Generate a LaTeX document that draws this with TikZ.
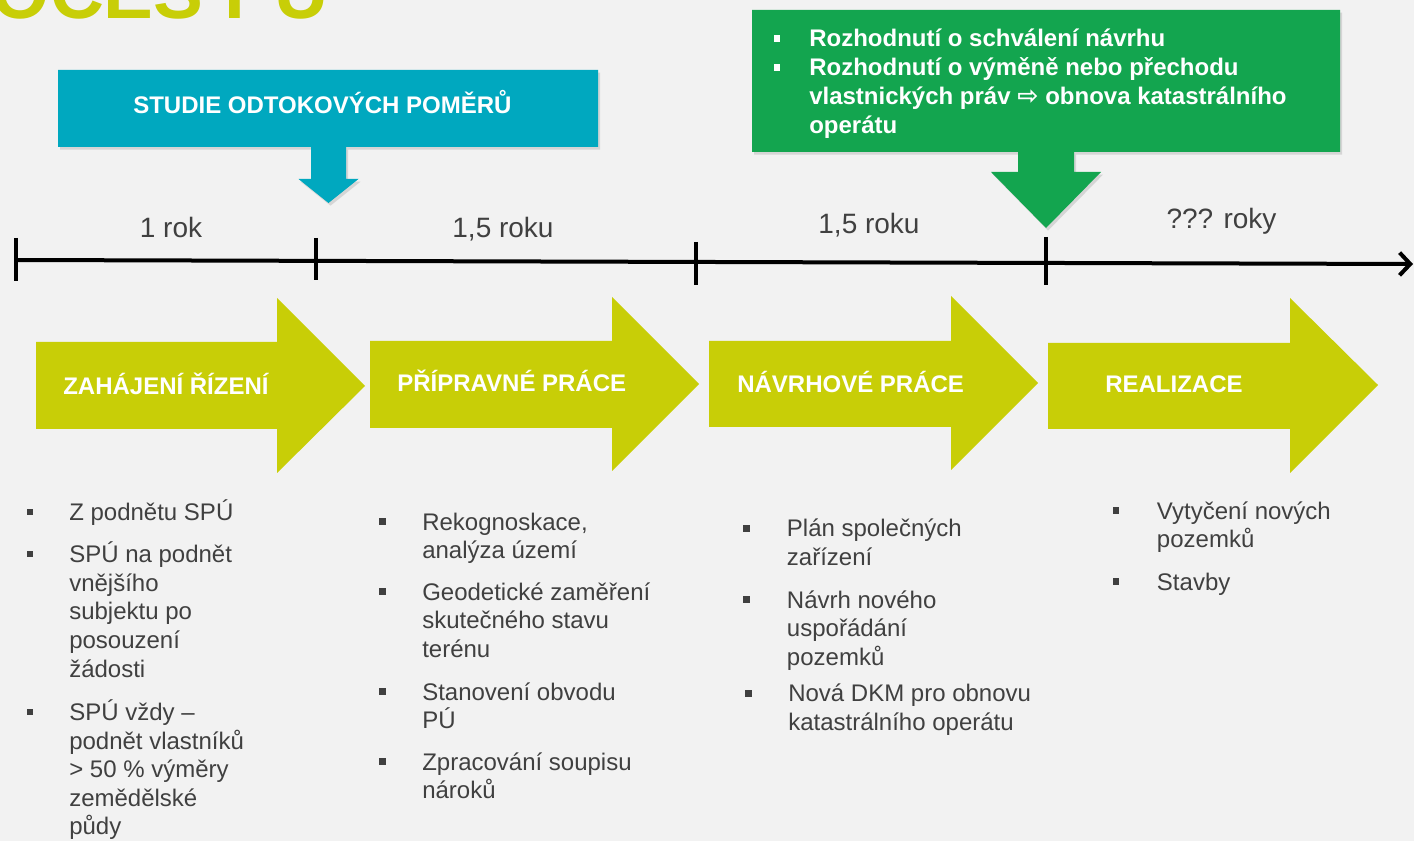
\documentclass[tikz,border=0pt]{standalone}
\usepackage{fontspec}
\setmainfont{Liberation Sans}
\newfontfamily\symfont{DejaVu Sans}
\usetikzlibrary{arrows.meta,shadows}
\definecolor{bg}{HTML}{F2F2F2}
\definecolor{lime}{HTML}{C8CE07}
\definecolor{tealc}{HTML}{00A8BF}
\definecolor{greenc}{HTML}{13A54F}
\definecolor{txt}{HTML}{404040}
\newcommand{\sqbullet}[3]{\fill[#1] (#2-3.3,#3-3.3) rectangle (#2+3.3,#3+3.3);}
\begin{document}
\begin{tikzpicture}[x=0.75pt,y=-0.75pt,
  li/.style={anchor=base west, inner sep=0pt, font=\fontsize{18}{21.6}\selectfont, text=txt},
  lbl/.style={anchor=base west, inner sep=0pt, font=\bfseries\fontsize{18}{21.6}\selectfont, text=white},
  tl/.style={anchor=base, inner sep=0pt, font=\fontsize{21}{25}\selectfont, text=txt},
  phase/.style={fill=lime},
  callout/.style={drop shadow={shadow xshift=1.5pt, shadow yshift=-2pt, opacity=0.25}},
  tick/.style={line width=3pt, black}
]
\useasboundingbox (0,0) rectangle (1414,841);
\clip (0,0) rectangle (1414,841);
\fill[bg] (0,0) rectangle (1414,841);

% title (cut off at top, as in the reference)
\node[anchor=base west, inner sep=0pt, font=\bfseries\fontsize{56}{60}\selectfont, text=lime] (title) at (-112,18.3) {PROCES PÚ};

% blue callout
\fill[tealc, callout] (58,70) -- (598,70) -- (598,147) -- (346,147) -- (346,179) -- (358.5,179)
  -- (328.5,203) -- (298.5,179) -- (311,179) -- (311,147) -- (58,147) -- cycle;
\node[lbl] (studie) at (133,114) {STUDIE ODTOKOVÝCH POMĚRŮ};

% green callout
\fill[greenc, callout] (752,10) -- (1340,10) -- (1340,152) -- (1074,152) -- (1074,172) -- (1101,172)
  -- (1046,228) -- (991,172) -- (1018,172) -- (1018,152) -- (752,152) -- cycle;
\sqbullet{white}{777}{38.5}
\sqbullet{white}{777}{67.5}
\node[lbl] (g1) at (809,47) {Rozhodnutí o schválení návrhu};
\node[lbl] (g2) at (809,76) {Rozhodnutí o výměně nebo přechodu};
\node[lbl] (g3) at (809,105) {vlastnických práv {\symfont\bfseries\fontsize{19}{20}\selectfont ⇨} obnova katastrálního};
\node[lbl] (g4) at (809,134) {operátu};

% timeline
\coordinate (t0) at (16,260);
\coordinate (t1) at (1413,264);
\draw[line width=3pt, -{Straight Barb[length=8pt,width=17pt,line width=3pt]}] (t0) -- (t1);
\draw[tick] (16,238) -- (16,281);
\draw[tick] (316,238) -- (316,280);
\draw[tick] (696,242) -- (696,285);
\draw[tick] (1046,237) -- (1046,285);
\node[tl] (y1) at (171,238) {1 rok};
\node[tl] (y2) at (503,238) {1,5 roku};
\node[tl] (y3) at (869,234) {1,5 roku};
\node[tl] (y4) at (1221.5,229) {??? roky};

% phase arrows
\fill[phase] (36,342) -- (277,342) -- (277,298) -- (365,386) -- (277,473) -- (277,429) -- (36,429) -- cycle;
\fill[phase] (370,341) -- (612,341) -- (612,297) -- (699,384) -- (612,471) -- (612,428) -- (370,428) -- cycle;
\fill[phase] (709,341) -- (951,341) -- (951,296) -- (1038,383) -- (951,470) -- (951,427) -- (709,427) -- cycle;
\fill[phase] (1048,343) -- (1290,343) -- (1290,298) -- (1378,385) -- (1290,473) -- (1290,429) -- (1048,429) -- cycle;
\node[lbl] (p1) at (63,395) {ZAHÁJENÍ ŘÍZENÍ};
\node[lbl] (p2) at (397,391.7) {PŘÍPRAVNÉ PRÁCE};
\node[lbl] (p3) at (737,392.5) {NÁVRHOVÉ PRÁCE};
\node[lbl] (p4) at (1105,392.5) {REALIZACE};

% column 1
\sqbullet{txt}{30}{512}
\sqbullet{txt}{30}{554}
\sqbullet{txt}{30}{711.8}
\node[li] (a1) at (69,520.7) {Z podnětu SPÚ};
\node[li] (a2) at (69,562.7) {SPÚ na podnět};
\node[li] (a3) at (69,591.3) {vnějšího};
\node[li] (a4) at (69,619.9) {subjektu po};
\node[li] (a5) at (69,648.5) {posouzení};
\node[li] (a6) at (69,677) {žádosti};
\node[li] (a7) at (69,720.5) {SPÚ vždy –};
\node[li] (a8) at (69,749) {podnět vlastníků};
\node[li] (a9) at (69,777.5) {> 50 \% výměry};
\node[li] (a10) at (69,806) {zemědělské};
\node[li] (a11) at (69,834.5) {půdy};

% column 2
\sqbullet{txt}{382.3}{521.3}
\sqbullet{txt}{382.3}{591.5}
\sqbullet{txt}{382.3}{691.5}
\sqbullet{txt}{382.3}{761.5}
\node[li] (b1) at (422,530) {Rekognoskace,};
\node[li] (b2) at (422,558.5) {analýza území};
\node[li] (b3) at (422,600) {Geodetické zaměření};
\node[li] (b4) at (422,628.5) {skutečného stavu};
\node[li] (b5) at (422,657) {terénu};
\node[li] (b6) at (422,700) {Stanovení obvodu};
\node[li] (b7) at (422,728.5) {PÚ};
\node[li] (b8) at (422,770) {Zpracování soupisu};
\node[li] (b9) at (422,798.5) {nároků};

% column 3
\sqbullet{txt}{746.5}{528.2}
\sqbullet{txt}{746.5}{599.5}
\sqbullet{txt}{748.5}{693.2}
\node[li] (c1) at (786.7,536.7) {Plán společných};
\node[li] (c2) at (786.7,565) {zařízení};
\node[li] (c3) at (786.7,608) {Návrh nového};
\node[li] (c4) at (786.7,636.7) {uspořádání};
\node[li] (c5) at (786.7,665) {pozemků};
\node[li] (c6) at (788,701.7) {Nová DKM pro obnovu};
\node[li] (c7) at (788,730) {katastrálního operátu};

% column 4
\sqbullet{txt}{1116}{510.5}
\sqbullet{txt}{1116}{581.5}
\node[li] (d1) at (1156.7,519) {Vytyčení nových};
\node[li] (d2) at (1156.7,547.7) {pozemků};
\node[li] (d3) at (1156.7,590) {Stavby};
\end{tikzpicture}
\end{document}
